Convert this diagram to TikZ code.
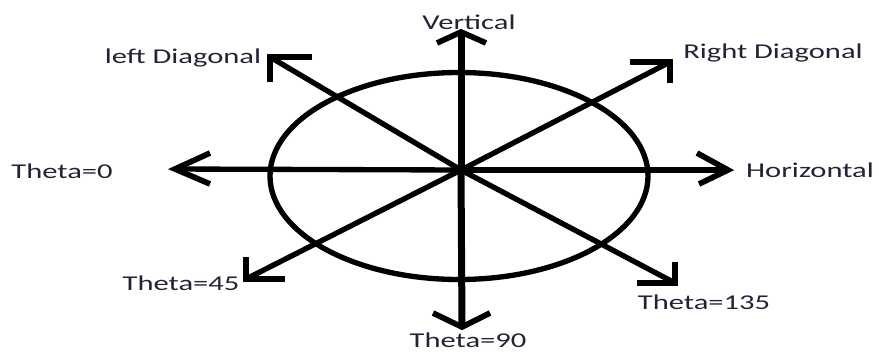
\documentclass[tikz,border=0pt]{standalone}
\usepackage{fontspec}
\newfontfamily\lblfont[FakeStretch=1.45]{Carlito}
\usetikzlibrary{positioning}
\definecolor{lbltext}{RGB}{35,35,55}

\begin{document}
\begin{tikzpicture}[
    x=0.03cm, y=-0.03cm,
    lbl/.style={font=\lblfont\fontsize{18}{20}\selectfont, text=lbltext, inner sep=0pt},
    axis/.style={line width=0.16cm},
    upright/.style={line width=0.21cm},
    head/.style={line width=0.17cm, line join=miter},
]
\useasboundingbox (0,0) rectangle (879,351);

\coordinate (o) at (461,170);
\coordinate (mid) at (459,176);
\coordinate (up) at (461,32);
\coordinate (down) at (462,327);
\coordinate (left) at (175,169);
\coordinate (right) at (728,170);
\coordinate (rd) at (670,62);
\coordinate (ld) at (270,57);
\coordinate (t45) at (246,279);
\coordinate (t135) at (675,283);

\node[lbl] (vert) at (469,22) {Vertical};
\node[lbl] (horiz) at (810,170) {Horizontal};
\node[lbl] (rdiag) at (773,53) {Right Diagonal};
\node[lbl] (ldiag) at (183,58) {left Diagonal};
\node[lbl] (th0) at (62,171) {Theta=0};
\node[lbl] (th45) at (181,283) {Theta=45};
\node[lbl] (th90) at (468,340) {Theta=90};
\node[lbl] (th135) at (704,302) {Theta=135};

\draw[axis] (mid) ellipse [x radius=189, y radius=103.5];

\draw[upright] (o) -- (up);
\draw[upright] (o) -- (down);
\draw[axis] (o) -- (left);
\draw[axis] (o) -- (right);
\draw[axis] (o) -- (rd);
\draw[axis] (o) -- (ld);
\draw[axis] (o) -- (t45);
\draw[axis] (o) -- (t135);

\draw[head] (up) ++(-24,11) -- (up) -- ++(25,11);
\draw[head] (down) ++(-29,-14) -- (down) -- ++(28,-14);
\draw[head] (left) ++(35,-16) -- (left) -- ++(35,15);
\draw[head] (right) ++(-31,-17) -- (right) -- ++(-29,14);
\draw[head] (rd) ++(-40,0) -- (rd) -- ++(0,21);
\draw[head] (ld) ++(42,0) -- (ld) -- ++(0,25);
\draw[head] (t45) ++(0,-22) -- (t45) -- ++(39,0);
\draw[head] (t135) ++(0,-21) -- (t135) -- ++(-38,0);
\end{tikzpicture}
\end{document}
